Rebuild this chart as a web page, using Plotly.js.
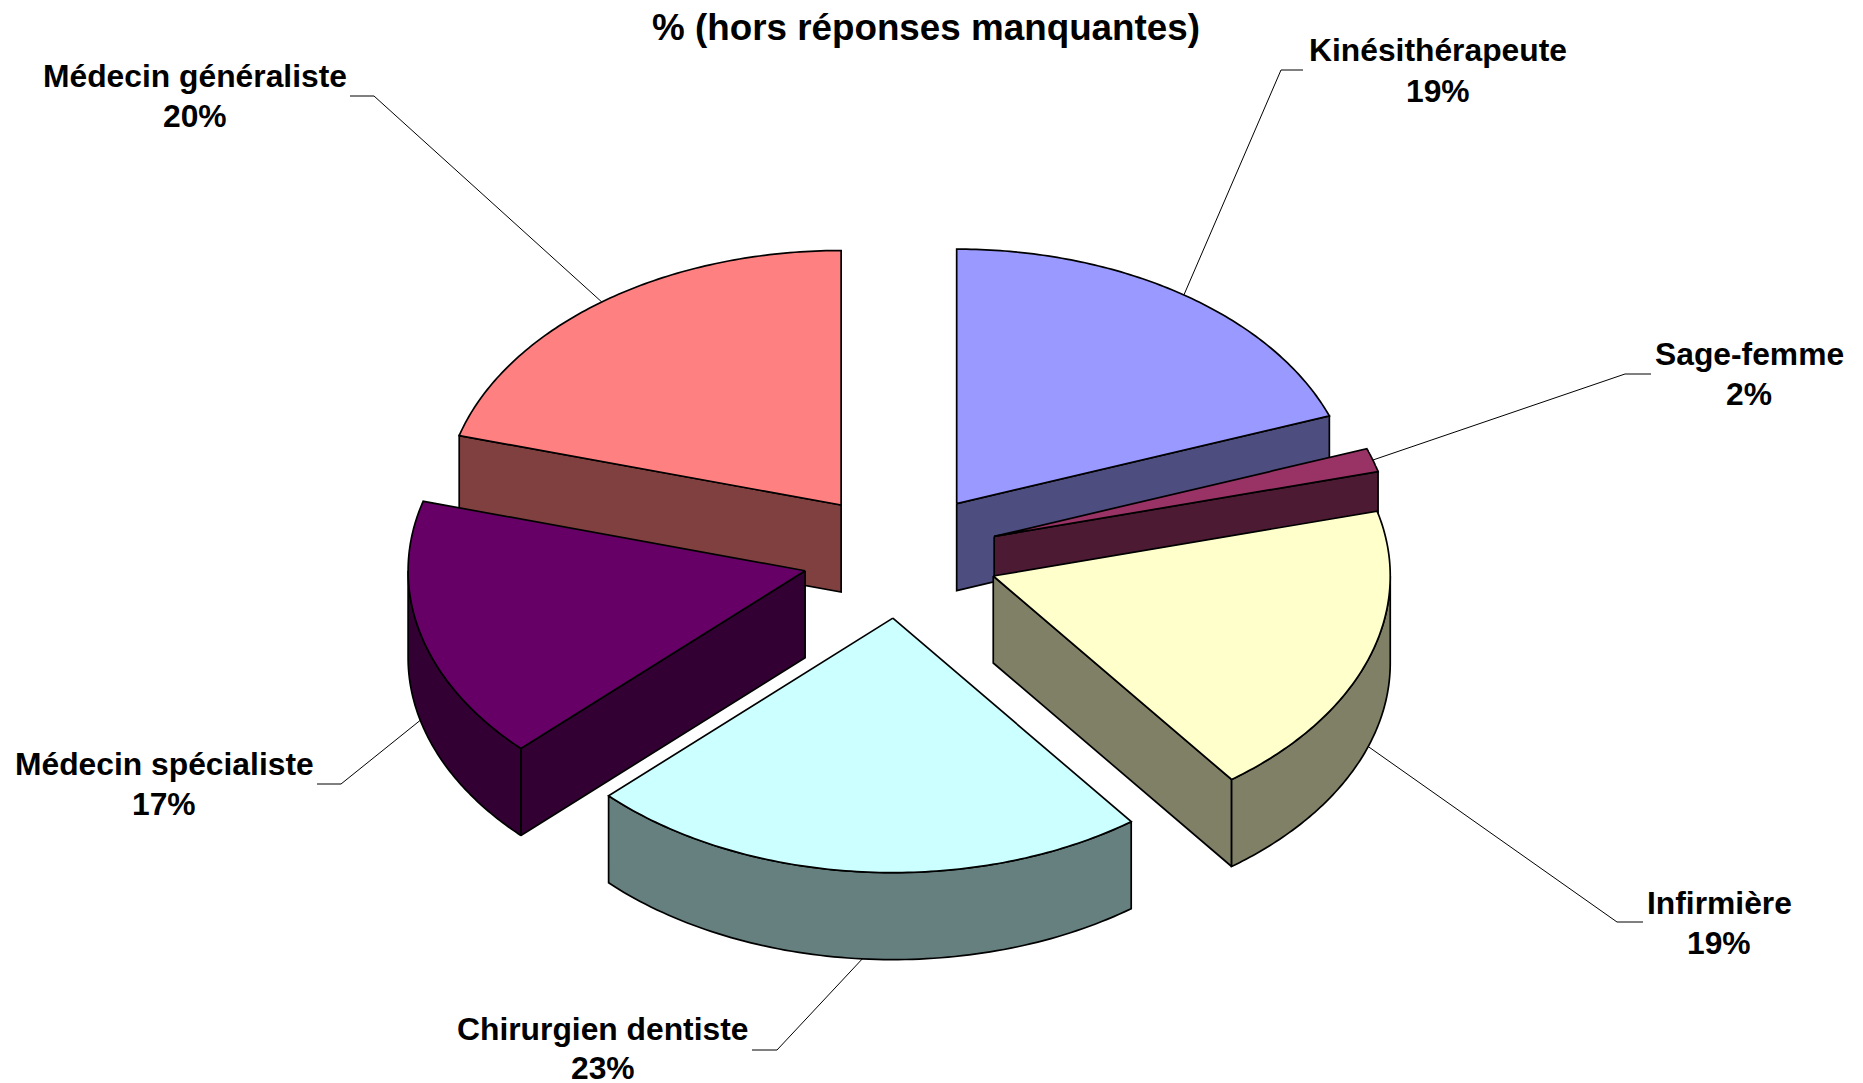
<!DOCTYPE html>
<html>
<head>
<meta charset="utf-8">
<script src="https://cdn.plot.ly/plotly-3.0.1.min.js"></script>
<style>html,body{margin:0;padding:0;background:#fff}#chart{width:1863px;height:1083px}</style>
</head>
<body>
<div id="chart"></div>
<script>
// Data, in pie order (clockwise from 12 o'clock)
const categories = ["Kinésithérapeute", "Sage-femme", "Infirmière", "Chirurgien dentiste", "Médecin spécialiste", "Médecin généraliste"];
const values = [19.4, 1.5, 18.85, 22.95, 16.7, 20.6];
const percentLabels = ["19%", "2%", "19%", "23%", "17%", "20%"];
const topColors = ["#9999FF", "#993366", "#FFFFCC", "#CCFFFF", "#660066", "#FF8080"];
const sideColors = ["#4D4D80", "#4D1A33", "#808066", "#668080", "#330033", "#804040"];

// Presentation geometry
const drawOrder = [0, 5, 1, 4, 2, 3];
const centre = {x: 900.4, y: 555.3};
const radiusX = 397, radiusY = 254.5, depth = 87, explode = 0.2476;
const labelX = [1437.5, 1749, 1719, 602.5, 164, 195];
const nameY = [49.5, 353.5, 903, 1029, 763.5, 75.5];
const pctY = [90.5, 393.5, 942.5, 1068, 803.5, 115.5];
const elbowX = [1281, 1625, 1617, 777, 341, 374];
const elbowY = [70, 374, 922, 1050, 784, 96];
const tailX = [1303, 1651, 1643, 752, 317, 350];
const FONT = "'Liberation Sans', Arial, sans-serif";

const total = values.reduce((a, b) => a + b, 0);
const rad = d => d * Math.PI / 180;
const traces = [];
const annotations = [];

function poly(xs, ys, fill) {
  traces.push({
    type: "scatter", mode: "lines", x: xs, y: ys, fill: "toself", fillcolor: fill,
    line: {color: "#000", width: 1.7, simplify: false}, hoverinfo: "skip", showlegend: false
  });
}

let cum = 0;
const slices = values.map((v, i) => {
  const a0 = cum / total * 360;
  cum += v;
  const a1 = cum / total * 360;
  const mid = (a0 + a1) / 2;
  const ax = centre.x + explode * radiusX * Math.sin(rad(mid));
  const ay = centre.y - explode * radiusY * Math.cos(rad(mid));
  const px = t => ax + radiusX * Math.sin(rad(t));
  const py = t => ay - radiusY * Math.cos(rad(t));
  return {i, a0, a1, mid, ax, ay, px, py};
});

// Leader lines go under the slices
slices.forEach(s => {
  const front = Math.cos(rad(s.mid)) < 0;
  const sx = s.px(s.mid), sy = s.py(s.mid) + (front ? depth : 0);
  traces.push({
    type: "scatter", mode: "lines",
    x: [sx, elbowX[s.i], tailX[s.i]], y: [sy, elbowY[s.i], elbowY[s.i]],
    line: {color: "#000", width: 1}, hoverinfo: "skip", showlegend: false
  });
  annotations.push({x: labelX[s.i], y: nameY[s.i], text: "<b>" + categories[s.i] + "</b>"});
  annotations.push({x: labelX[s.i], y: pctY[s.i], text: "<b>" + percentLabels[s.i] + "</b>"});
});

function wall(s, t) {
  poly([s.ax, s.px(t), s.px(t), s.ax, s.ax],
       [s.ay, s.py(t), s.py(t) + depth, s.ay + depth, s.ay], sideColors[s.i]);
}

drawOrder.forEach(k => {
  const s = slices[k];
  // radial walls facing the viewer
  if (Math.sin(rad(s.a0)) < 0) wall(s, s.a0);
  if (Math.sin(rad(s.a1)) > 0) wall(s, s.a1);
  // outer curved wall: only its front half shows
  const from = Math.max(s.a0, 90), to = Math.min(s.a1, 270);
  if (to > from) {
    const xs = [], ys = [], xb = [], yb = [];
    for (let n = 0; n <= 80; n++) {
      const t = from + (to - from) * n / 80;
      xs.push(s.px(t)); ys.push(s.py(t));
      xb.unshift(s.px(t)); yb.unshift(s.py(t) + depth);
    }
    poly(xs.concat(xb, [xs[0]]), ys.concat(yb, [ys[0]]), sideColors[s.i]);
  }
  // top face
  const tx = [s.ax], ty = [s.ay];
  for (let n = 0; n <= 100; n++) {
    const t = s.a0 + (s.a1 - s.a0) * n / 100;
    tx.push(s.px(t)); ty.push(s.py(t));
  }
  tx.push(s.ax); ty.push(s.ay);
  poly(tx, ty, topColors[s.i]);
});

annotations.forEach(a => {
  Object.assign(a, {xref: "x", yref: "y", showarrow: false, xanchor: "center", yanchor: "middle",
    font: {family: FONT, size: 31.8, color: "#000"}});
});
annotations.push({
  x: 926, y: 27, xref: "x", yref: "y", showarrow: false, xanchor: "center", yanchor: "middle",
  text: "<b>% (hors réponses manquantes)</b>", font: {family: FONT, size: 36.8, color: "#000"}
});

Plotly.newPlot("chart", traces, {
  width: 1863, height: 1083,
  margin: {l: 0, r: 0, t: 0, b: 0},
  paper_bgcolor: "#fff", plot_bgcolor: "#fff",
  showlegend: false,
  xaxis: {range: [0, 1863], visible: false, fixedrange: true},
  yaxis: {range: [1083, 0], visible: false, fixedrange: true},
  annotations
}, {displayModeBar: false, staticPlot: true});
</script>
</body>
</html>
